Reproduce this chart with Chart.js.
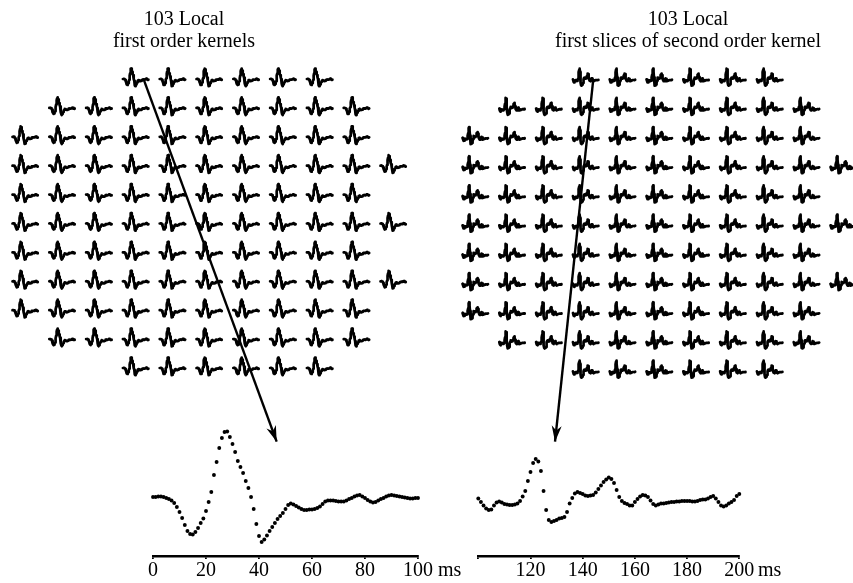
<!DOCTYPE html>
<html><head><meta charset="utf-8">
<script src="https://cdn.jsdelivr.net/npm/chart.js@4/dist/chart.umd.min.js"></script>
<style>
html,body{margin:0;padding:0;background:#fff;}
#fig{position:relative;width:853px;height:583px;overflow:hidden;background:#fff;font-family:"Liberation Serif","Times New Roman",serif;color:#000;}
#fig canvas{position:absolute;left:0;top:0;}
.t{position:absolute;font-size:20px;line-height:22px;text-align:center;white-space:nowrap;}
</style></head><body>
<div id="fig">
  <canvas id="gridL" width="900" height="583"></canvas>
  <canvas id="gridR" width="900" height="583"></canvas>
  <canvas id="traceL" width="900" height="583"></canvas>
  <canvas id="traceR" width="900" height="583"></canvas>
  <div class="t" style="left:84px;width:200px;top:7px">103 Local<br>first order kernels</div>
  <div class="t" style="left:538px;width:300px;top:7px">103 Local<br>first slices of second order kernel</div>
  <div class="t" style="left:438px;top:558px">ms</div>
  <div class="t" style="left:758px;top:558px">ms</div>
</div>
<script>
// ---------- DATA ----------
// hexagonal array of 103 local responses: first column and number of kernels per row
const rowStartCol = [3, 1, 0, 0, 0, 0, 0, 0, 0, 1, 3];
const rowLength   = [6, 9, 10, 11, 10, 11, 10, 11, 10, 9, 6];

// enlarged first order kernel, sampled every ms from 0 to 100 ms
const firstOrderMs = Array.from({length: 101}, (_, i) => i);
const firstOrderKernel = [
  0, 0, 0.5, 0.5, 0, -1, -2, -3.5, -6, -10,
  -15, -21, -28, -34, -37, -37.5, -35, -31, -26, -21.5,
  -14, -5, 5, 22, 35, 49, 59, 65, 65.5, 60,
  53, 45, 36, 30, 24, 16, 9, 0, -12, -27,
  -39, -45, -42.5, -38.5, -34, -30, -26, -22, -19, -16,
  -12, -8, -6.5, -7.5, -9, -10.5, -12, -13, -13, -12.5,
  -12.5, -12, -11, -9.5, -7, -4.5, -3.5, -3.5, -3.5, -4,
  -4.5, -4.5, -4.5, -3.5, -2, -1, 0.5, 1.5, 2, 0.5,
  -1, -3, -4.5, -5.5, -5, -3.5, -2, -1, 0.5, 1.5,
  2, 1.5, 1, 0.5, 0, -0.5, -1, -1.5, -1.5, -1,
  -1
];

// enlarged first slice of the second order kernel, sampled every ms from 100 to 200 ms
const secondOrderMs = Array.from({length: 101}, (_, i) => 100 + i);
const secondOrderSlice = [
  2.5, -1, -4.5, -7.5, -9, -8.5, -4.5, -1.5, -0.5, -1.5,
  -3, -3.5, -4, -4, -3.5, -2.5, 0, 4.5, 10, 20,
  29, 38, 42, 39.5, 30, 10, -9, -19, -21, -20,
  -19, -17.5, -17, -16, -11, -2.5, 3, 7.5, 9, 8,
  7, 5.5, 5, 5.5, 6, 8.5, 12, 15.5, 19, 21.5,
  23.5, 22, 18, 11, 4, 0, -2, -3, -4.5, -4.5,
  -1, 2, 4.5, 6, 5.5, 4, 0.5, -3, -4.5, -3.5,
  -2.5, -2.5, -2, -1.5, -1, -1, -0.5, -0.5, 0, 0,
  0, 0, -0.5, -0.5, 0, 1, 1.5, 1.5, 2.5, 4,
  5, 2.5, -1, -4.5, -5.5, -4.5, -2.5, -1, 1, 5,
  7
];

const leftTickLabels  = [0, 20, 40, 60, 80, 100];
const rightTickLabels = [120, 140, 160, 180, 200];

// ---------- LAYOUT ----------
const W = 900, H = 583;
const FONT = 'Liberation Serif';
const LAYOUT = {
  left: {
    gridX0: 12.5, colStep: 36.8, rowY0: 79, rowStep: 28.9,
    glyphWidth: 25.5, glyphWindow: 85, glyphStart: 0, glyphGain: 0.16,
    arrowFrom: {x: 3.554, y: 0.976}, arrowTo: {x: 7.179, y: 13.55},
    axisX0: 153, axisX1: 418, axisY: 556, traceTop: 420, baseY: 497,
    xMin: 0, xMax: 100
  },
  right: {
    gridX0: 462.5, colStep: 36.8, rowY0: 80, rowStep: 29.2,
    glyphWidth: 25.5, glyphWindow: 85, glyphStart: 100, glyphGain: 0.27,
    arrowFrom: {x: 3.554, y: 0.966}, arrowTo: {x: 2.514, y: 13.387},
    axisX0: 478.3, axisX1: 739.3, axisY: 556, traceTop: 420, baseY: 501,
    xMin: 100, xMax: 200
  }
};

const arrowHead = {
  id: 'arrowHead',
  afterDatasetsDraw(chart) {
    const ctx = chart.ctx;
    chart.data.datasets.forEach((ds, i) => {
      if (!ds.isArrow) return;
      const pts = chart.getDatasetMeta(i).data;
      const a = pts[0], b = pts[pts.length - 1];
      const ang = Math.atan2(b.y - a.y, b.x - a.x);
      const len = 16, half = 5;
      ctx.save();
      ctx.fillStyle = '#000';
      ctx.beginPath();
      ctx.moveTo(b.x, b.y);
      ctx.lineTo(b.x - len * Math.cos(ang) + half * Math.sin(ang), b.y - len * Math.sin(ang) - half * Math.cos(ang));
      ctx.lineTo(b.x - 0.7 * len * Math.cos(ang), b.y - 0.7 * len * Math.sin(ang));
      ctx.lineTo(b.x - len * Math.cos(ang) - half * Math.sin(ang), b.y - len * Math.sin(ang) + half * Math.cos(ang));
      ctx.closePath();
      ctx.fill();
      ctx.restore();
    });
  }
};

function makeGrid(id, L, ms, vals) {
  const tpl = [];
  ms.forEach((t, i) => {
    if (t >= L.glyphStart && t <= L.glyphStart + L.glyphWindow) tpl.push({t, v: vals[i]});
  });
  const colPerMs = (L.glyphWidth / L.colStep) / L.glyphWindow;
  const rowPerAmp = L.glyphGain / L.rowStep;
  const datasets = [];
  rowStartCol.forEach((c0, r) => {
    for (let k = 0; k < rowLength[r]; k++) {
      const col = c0 + k, row = r + 1;
      datasets.push({
        data: tpl.map(p => ({x: col + (p.t - L.glyphStart) * colPerMs, y: row - p.v * rowPerAmp})),
        borderColor: '#000', borderWidth: 2.7, pointRadius: 0, fill: false, clip: false,
        tension: 0, borderJoinStyle: 'round', borderCapStyle: 'round'
      });
    }
  });
  datasets.push({
    isArrow: true,
    data: [L.arrowFrom, L.arrowTo],
    borderColor: '#000', borderWidth: 2.4, pointRadius: 0, fill: false, clip: false, tension: 0
  });
  const xMin = -0.3, xMax = 11;
  return new Chart(document.getElementById(id), {
    type: 'line',
    data: {datasets},
    options: {
      responsive: false, animation: false, events: [],
      layout: {padding: {
        left: L.gridX0 + xMin * L.colStep,
        right: W - (L.gridX0 + xMax * L.colStep),
        top: L.rowY0,
        bottom: H - (L.rowY0 + 10 * L.rowStep)
      }},
      scales: {
        x: {type: 'linear', display: false, min: xMin, max: xMax},
        y: {type: 'linear', display: false, min: 1, max: 11, reverse: true}
      },
      plugins: {legend: {display: false}, tooltip: {enabled: false}, title: {display: false}}
    },
    plugins: [arrowHead]
  });
}

function makeTrace(id, L, ms, vals, tickLabels) {
  return new Chart(document.getElementById(id), {
    type: 'line',
    data: {datasets: [{
      data: ms.map((t, i) => ({x: t, y: vals[i]})),
      showLine: false, pointRadius: 1.95, pointBackgroundColor: '#000',
      pointBorderWidth: 0, clip: false
    }]},
    options: {
      responsive: false, animation: false, events: [],
      layout: {padding: {left: L.axisX0, right: W - L.axisX1, top: L.traceTop, bottom: 0}},
      scales: {
        x: {
          type: 'linear', min: L.xMin, max: L.xMax,
          afterFit: s => { s.height = H - L.axisY; },
          border: {display: true, color: '#000', width: 2.4},
          grid: {display: true, drawOnChartArea: false, drawTicks: true, tickLength: 3, color: '#000', lineWidth: 1.8},
          ticks: {
            stepSize: 20, autoSkip: false, maxRotation: 0, minRotation: 0, padding: 0,
            color: '#000', font: {family: FONT, size: 20},
            callback: v => tickLabels.includes(v) ? String(v) : ''
          }
        },
        y: {type: 'linear', display: false, min: L.baseY - L.axisY, max: L.baseY - L.traceTop}
      },
      plugins: {legend: {display: false}, tooltip: {enabled: false}}
    }
  });
}

makeGrid('gridL', LAYOUT.left, firstOrderMs, firstOrderKernel);
makeGrid('gridR', LAYOUT.right, secondOrderMs, secondOrderSlice);
makeTrace('traceL', LAYOUT.left, firstOrderMs, firstOrderKernel, leftTickLabels);
makeTrace('traceR', LAYOUT.right, secondOrderMs, secondOrderSlice, rightTickLabels);
</script>
</body></html>
